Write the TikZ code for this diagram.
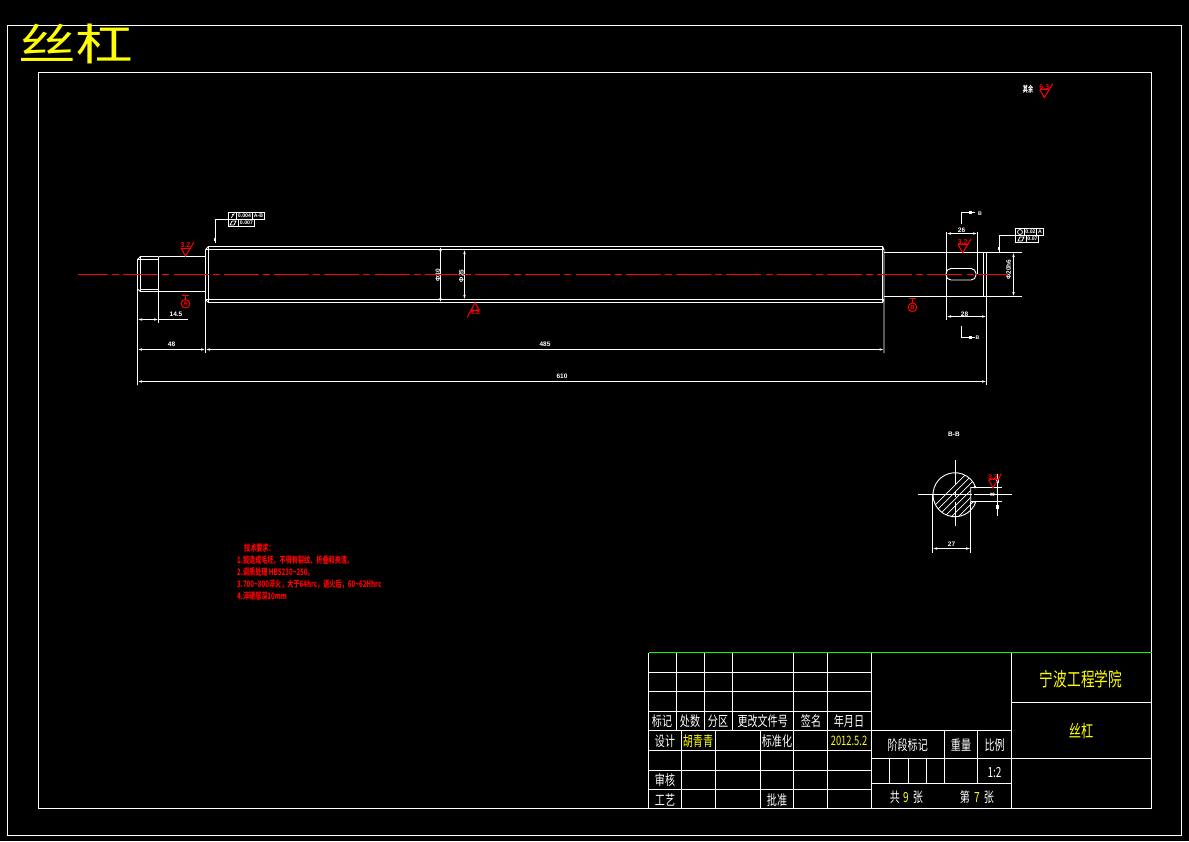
\documentclass[tikz,border=0pt]{standalone}
\usepackage{fontspec}
\setmainfont{Liberation Sans}
\newfontfamily\cjkfont{Noto Sans CJK SC}
\usetikzlibrary{arrows.meta}
\definecolor{ColRed}{RGB}{255,0,0}
\definecolor{ColYellow}{RGB}{255,255,0}
\definecolor{ColGreen}{RGB}{0,255,0}
\tikzstyle{Line}=[white,line width=.9pt]
\tikzstyle{Thin}=[white,line width=.7pt]
\tikzstyle{Dim}=[white,line width=.8pt,{Latex[length=4.5pt,width=2.6pt]}-{Latex[length=4.5pt,width=2.6pt]}]
\tikzstyle{Blob}=[white,line width=2.2pt]
\tikzstyle{CenterRed}=[ColRed,line width=1pt,dash pattern=on 35pt off 4.13pt on 7pt off 4.13pt,dash phase=5pt]
\tikzstyle{RedLine}=[ColRed,line width=1pt]
\tikzstyle{Small}=[white,inner sep=0pt,font=\fontsize{6.5}{6.5}\selectfont\bfseries]
\tikzstyle{Tiny}=[white,inner sep=0pt,font=\fontsize{5.2}{5.2}\selectfont\bfseries]
\tikzstyle{RedSmall}=[ColRed,inner sep=0pt,font=\fontsize{7}{7}\selectfont\bfseries]
\tikzstyle{Datum}=[circle,draw=ColRed,line width=1pt,text=ColRed,inner sep=0pt,minimum size=8.6pt,font=\fontsize{6}{6}\selectfont\bfseries]
\tikzstyle{Note}=[ColRed,inner sep=0pt,anchor=west,xscale=.68,font=\cjkfont\fontsize{9}{9}\selectfont\bfseries]
\tikzstyle{Block}=[white,inner sep=0pt,xscale=.72,font=\cjkfont\fontsize{14}{14}\selectfont]
\tikzstyle{BlockY}=[ColYellow,inner sep=0pt,xscale=.72,font=\cjkfont\fontsize{14}{14}\selectfont]
\tikzstyle{BlockBig}=[ColYellow,inner sep=0pt,xscale=.72,font=\cjkfont\fontsize{19}{19}\selectfont]
\begin{document}
\begin{tikzpicture}[x=1pt,y=-1pt]
\fill[black](0,0)rectangle(1189,841);
\useasboundingbox(0,0)rectangle(1189,841);
% frames
\draw[Thin](7.5,25.5)rectangle(1181.5,835.5);
\draw[Thin](38.5,72.5)rectangle(1151.5,808.5);
\node[ColYellow,inner sep=0pt,xscale=1.09,yscale=.82,font=\cjkfont\fontsize{53}{53}\selectfont](title)at(76,43.5){丝杠};
% shaft
\draw[Line](158.5,256.5)--(140.5,256.5)--(137.5,259.5)--(137.5,385);
\draw[Line](140.5,256.5)--(140.5,291.5);
\draw[Line](137.5,259.5)--(158.5,259.5);
\draw[Line](140.5,289.5)--(158.5,289.5);
\draw[Line](137.5,289)--(140.5,291.5)--(205.5,291.5);
\draw[Line](158.5,256.5)--(205.5,256.5);
\draw[Line](158.5,256.5)--(158.5,323);
\draw[Line](205.5,249.5)--(208.5,246.5)--(882.5,246.5)--(884,249.5)--(884,353);
\draw[Line](205.5,249.5)--(205.5,353);
\draw[Line](205.5,299.5)--(208.5,302.5)--(882.5,302.5)--(884,299.5);
\draw[Line](205.5,249.5)--(884,249.5);
\draw[Line](205.5,299.5)--(884,299.5);
\draw[Line](208.5,246.5)--(208.5,302.5);
\draw[Line](882.5,246.5)--(882.5,302.5);
\draw[Line](884,252.5)--(1021.5,252.5);
\draw[Line](884,296.5)--(1021.5,296.5);
\draw[Line](946.5,232)--(946.5,320);
\draw[Line](977.5,232)--(977.5,274);
\draw[Line](983.5,252.5)--(983.5,296.5);
\draw[Line](986.5,252.5)--(986.5,385);
\draw[Line,rounded corners=5pt](946,268.5)rectangle(976,280);
% dimensions
\draw[Dim](137.5,319.5)--(158.5,319.5);
\draw[Line](158.5,319.5)--(187.5,319.5);
\node[Small](dimA)at(176,314){14.5};
\draw[Dim](137.5,349.5)--(205.5,349.5);
\node[Small](dimB)at(171.5,344){48};
\draw[Dim](205.5,349.5)--(884,349.5);
\node[Small](dimC)at(545,344){485};
\draw[Dim](137.5,381.5)--(986.5,381.5);
\node[Small](dimD)at(562,376){610};
\draw[Dim](440.5,246.5)--(440.5,302.5);
\node[Small,rotate=90](dimE)at(438,275.5){Φ30};
\draw[Dim](464.5,249.5)--(464.5,299.5);
\node[Small,rotate=90](dimF)at(461.5,276){Φ25};
\draw[Dim](1013.5,252.5)--(1013.5,296.5);
\node[Small,rotate=90](dimG)at(1008.5,269.5){Φ20h6};
\draw[Dim](946.5,233.5)--(977.5,233.5);
\node[Small](dimH)at(961.5,230){26};
\draw[Dim](946.5,316.5)--(986.5,316.5);
\node[Small](dimI)at(964.5,314){28};
% section marks
\draw[Line](961.5,224)--(961.5,212.5)--(975,212.5);
\draw[Blob](969,212.5)--(972,212.5);
\node[Tiny](secA)at(980,214){B};
\draw[Line](961.5,326)--(961.5,337.5)--(975,337.5);
\draw[Blob](969,337.5)--(972,337.5);
\node[Tiny](secB)at(977.5,338){B};
% tolerance frames
\draw[Line](215.5,243)--(215.5,219.5)--(228.5,219.5);
\draw[Blob](214.8,238)--(214.8,241);
\draw[Thin](228.5,212.5)rectangle(264.5,219.5);
\draw[Thin](228.5,219.5)rectangle(254.5,226.5);
\draw[Thin](236.5,212.5)--(236.5,219.5);
\draw[Thin](252.5,212.5)--(252.5,219.5);
\draw[Thin](238.5,219.5)--(238.5,226.5);
\draw[Thin](231,218)--(234,214)--(232,214.5);
\draw[Thin](230,225)--(232,221)--(236,221)--(234,225)--cycle;
\node[Tiny](tolA)at(244.5,216){0.004};
\node[Tiny](tolB)at(258.5,216){A-B};
\node[Tiny](tolC)at(246.5,223){0.007};
\draw[Line](999.5,252)--(999.5,235.5)--(1015.5,235.5);
\draw[Blob](998.8,247)--(998.8,250);
\draw[Thin](1015.5,228.5)rectangle(1043.5,235.5);
\draw[Thin](1015.5,235.5)rectangle(1038.5,242.5);
\draw[Thin](1024.5,228.5)--(1024.5,235.5);
\draw[Thin](1036.5,228.5)--(1036.5,235.5);
\draw[Thin](1026.5,235.5)--(1026.5,242.5);
\draw[Thin](1020,232)circle(2.5);
\draw[Thin](1018,241)--(1020,237)--(1024,237)--(1022,241)--cycle;
\node[Tiny](tolD)at(1030.5,232){0.02};
\node[Tiny](tolE)at(1040,232){A};
\node[Tiny](tolF)at(1032.5,239){0.07};
% section view
\node[Small](secTitle)at(954,434.5){B-B};
\begin{scope}
\clip(975.8,501.9)arc[start angle=19,end angle=341,radius=22]--(970.7,487.5)--(970.7,501.9)--cycle;
\foreach \h in {910,917,...,1050}{
\draw[Thin](\h,530)--(\h+70,460);
}
\end{scope}
\draw[Line](975.8,501.9)arc[start angle=19,end angle=341,radius=22]--(970.7,487.5)--(970.7,501.9)--cycle;
\draw[Line](918,494.5)--(972,494.5);
\draw[Line](973.5,494.5)--(1012,494.5);
\draw[Line](955.5,460)--(955.5,485);
\draw[Line](955.5,491)--(955.5,497);
\draw[Line](955.5,502)--(955.5,525.5);
\draw[Line](970.7,487.5)--(1001.5,487.5);
\draw[Line](970.7,501.9)--(1001.5,501.9);
\draw[Line](997.5,473.5)--(997.5,515.5);
\draw[Blob](997.5,479)--(997.5,483);
\draw[Blob](997.5,505)--(997.5,509);
\node[Small,rotate=90](dimJ)at(992.5,494.5){8};
\draw[Line](932.5,494.5)--(932.5,552.5);
\draw[Line](970.7,501.9)--(970.7,552.5);
\draw[Dim](932.5,548.5)--(970.7,548.5);
\node[Small](dimK)at(951.5,544){27};
% center line
\draw[CenterRed](78,274.5)--(1008,274.5);
% roughness marks
\foreach \tx/\ty/\val/\nm in {185.5/256/3.2/roughA,962.7/252.7/3.2/roughB,993/487.7/3.2/roughC,1044.3/97.7/6.3/roughD}{
\draw[RedLine](\tx-4.5,\ty-8)--(\tx,\ty)--(\tx+8.5,\ty-14);
\draw[RedLine](\tx-4.5,\ty-8)--(\tx+4.5,\ty-8);
\node[RedSmall](\nm)at(\tx,\ty-10.5){\val};
}
\draw[RedLine](479.3,310)--(475,302.7)--(467.3,317.3);
\draw[RedLine](470.7,310)--(479.3,310);
\node[RedSmall](roughE)at(475,312.5){6.3};
\node[Small,yscale=1.4,xscale=.85,font=\cjkfont\fontsize{6}{6}\selectfont\bfseries](restText)at(1028,89.5){其余};
% datum marks
\node[Datum](datumA)at(185.5,303.7){A};
\draw[RedLine](datumA.north)--(185.5,295.5);
\draw[RedLine](182,295.5)--(189,295.5);
\node[Datum](datumB)at(912.5,307.3){B};
\draw[RedLine](datumB.north)--(912.5,298.5);
\draw[RedLine](909,298.5)--(916,298.5);
% notes
\node[Note](noteT)at(244,548){技术要求：};
\node[Note](noteA)at(237,560){1.锻造成毛坯。不得有裂纹、折叠和夹渣。};
\node[Note](noteB)at(237,572){2.调质处理 HB5230\textasciitilde250。};
\node[Note](noteC)at(237,584){3.700\textasciitilde800淬火，大于64hrc，退火后，60\textasciitilde62Hhrc};
\node[Note](noteD)at(237,596){4.淬硬层深10mm};
% title block
\draw[Line](648.5,652.5)--(648.5,808.5);
\foreach \yy in {672.5,691.5,711.5,730.5,750.5,770.5,789.5}{
\draw[Line](648.5,\yy)--(871.5,\yy);
}
\foreach \xx in {676.5,704.5,732.5}{
\draw[Line](\xx,652.5)--(\xx,730.5);
}
\foreach \xx in {681.5,715.5,760.5}{
\draw[Line](\xx,730.5)--(\xx,808.5);
}
\foreach \xx in {793.5,827.5,871.5,1011.5}{
\draw[Line](\xx,652.5)--(\xx,808.5);
}
\draw[Line](1011.5,702.5)--(1151.5,702.5);
\draw[Line](871.5,730.5)--(1011.5,730.5);
\draw[Line](871.5,758.5)--(1151.5,758.5);
\draw[Line](871.5,783.5)--(1011.5,783.5);
\foreach \xx in {889.5,908.5,926.5}{
\draw[Line](\xx,758.5)--(\xx,783.5);
}
\foreach \xx in {944.5,977.5}{
\draw[Line](\xx,730.5)--(\xx,783.5);
}
\draw[ColGreen,line width=.9pt](648.5,652.5)--(1151.5,652.5);
\node[Block](cellA)at(662,721){标记};
\node[Block](cellB)at(690,721){处数};
\node[Block](cellC)at(718,721){分区};
\node[Block](cellD)at(762.7,721){更改文件号};
\node[Block](cellE)at(811,721){签名};
\node[Block](cellF)at(849,721){年月日};
\node[Block](cellG)at(665,741){设计};
\node[BlockY](cellH)at(698,741){胡青青};
\node[Block](cellI)at(777,741){标准化};
\node[BlockY,font=\cjkfont\fontsize{13}{13}\selectfont](cellJ)at(849,741){2012.5.2};
\node[Block](cellK)at(665,780){审核};
\node[Block](cellL)at(665,800){工艺};
\node[Block](cellM)at(777,800){批准};
\node[Block](cellN)at(907.7,745){阶段标记};
\node[Block](cellO)at(961,745){重量};
\node[Block](cellP)at(994.7,745){比例};
\node[Block](cellQ)at(994.5,772.5){1:2};
\node[Block](cellR)at(895,797){共};
\node[BlockY](cellS)at(906,797){9};
\node[Block](cellT)at(918,797){张};
\node[Block](cellU)at(965,797){第};
\node[BlockY](cellV)at(977,797){7};
\node[Block](cellW)at(989,797){张};
\node[BlockBig](cellX)at(1081,679.5){宁波工程学院};
\node[BlockBig,font=\cjkfont\fontsize{17}{17}\selectfont](cellY)at(1081,731.5){丝杠};
\end{tikzpicture}
\end{document}
